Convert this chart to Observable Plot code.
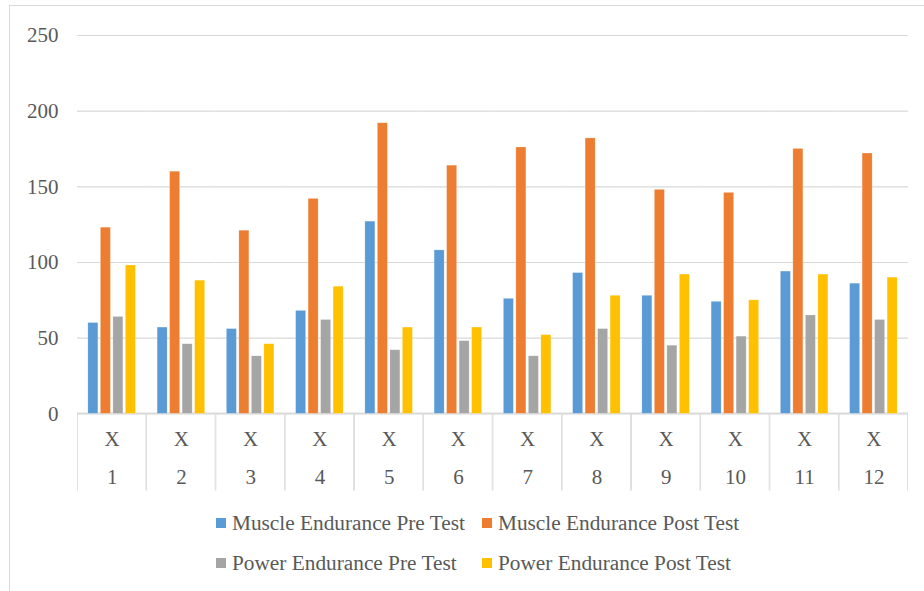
<!DOCTYPE html>
<html>
<head>
<meta charset="utf-8">
<script src="https://cdn.jsdelivr.net/npm/d3@7"></script>
<script src="https://cdn.jsdelivr.net/npm/@observablehq/plot@0.6"></script>
<style>
  html, body { margin: 0; padding: 0; background: #fff; }
  #wrap { position: relative; width: 924px; height: 591px; overflow: hidden; font-family: "Liberation Serif", "Times New Roman", serif; color: #595959; }
  #border { position: absolute; left: 9px; top: 5px; width: 1000px; height: 1000px; border: 1.5px solid #d9d9d9; box-sizing: border-box; }
  #chart { position: absolute; left: 0; top: 0; }
  #legend { position: absolute; left: 216px; top: 511px; display: grid; grid-template-columns: 266px auto; row-gap: 16px; font-size: 21.3px; }
  .item { display: flex; align-items: center; height: 24px; white-space: nowrap; }
  .sw { width: 10px; height: 10px; margin-right: 6px; flex: none; }
</style>
</head>
<body>
<div id="wrap">
  <div id="border"></div>
  <div id="chart"></div>
  <div id="legend"></div>
</div>
<script>
const groups = ["1","2","3","4","5","6","7","8","9","10","11","12"];
const categoryTop = ["X","X","X","X","X","X","X","X","X","X","X","X"];
const series = ["Muscle Endurance Pre Test","Muscle Endurance Post Test","Power Endurance Pre Test","Power Endurance Post Test"];
const colors = ["#5B9BD5","#ED7D31","#A5A5A5","#FFC000"];
const musclePre  = [60, 57, 56, 68, 127, 108, 76, 93, 78, 74, 94, 86];
const musclePost = [123, 160, 121, 142, 192, 164, 176, 182, 148, 146, 175, 172];
const powerPre   = [64, 46, 38, 62, 42, 48, 38, 56, 45, 51, 65, 62];
const powerPost  = [98, 88, 46, 84, 57, 57, 52, 78, 92, 75, 92, 90];
const yTicks = [0, 50, 100, 150, 200, 250];

const seriesValues = [musclePre, musclePost, powerPre, powerPost];
const data = [];
groups.forEach((g, i) => {
  series.forEach((s, j) => data.push({group: g, series: s, value: seriesValues[j][i]}));
});
const cats = groups.map((g, i) => ({group: g, top: categoryTop[i]}));

const chart = Plot.plot({
  width: 924,
  height: 500,
  marginLeft: 77,
  marginRight: 16,
  marginTop: 35,
  marginBottom: 9.5,
  style: {fontFamily: "Liberation Serif, Times New Roman, serif", fontSize: "21px", color: "#595959", background: "transparent"},
  fx: {domain: groups, padding: 0, round: false, axis: null},
  x: {domain: series, paddingInner: 0.2, paddingOuter: 0.87, round: false, axis: null},
  y: {domain: [-51, 250], axis: null},
  color: {domain: series, range: colors},
  marks: [
    Plot.gridY(yTicks, {stroke: "#d9d9d9", strokeOpacity: 1, strokeWidth: 1.2}),
    Plot.rect(cats, {fx: "group", y1: 0, y2: -70, stroke: "#d9d9d9", strokeWidth: 1.6, fill: "none", clip: true}),
    Plot.axisY(yTicks, {tickSize: 0, tickPadding: 19, fontSize: 21, fill: "#595959", label: null}),
    Plot.barY(data, {fx: "group", x: "series", y: "value", fill: "series", stroke: "white", strokeOpacity: 0.35, strokeWidth: 0.6}),
    Plot.text(cats, {fx: "group", y: -17, text: "top", fontSize: 21, fill: "#595959"}),
    Plot.text(cats, {fx: "group", y: -42, text: "group", fontSize: 21, fill: "#595959"})
  ]
});
document.getElementById("chart").appendChild(chart);

const legend = document.getElementById("legend");
series.forEach((s, j) => {
  const item = document.createElement("div");
  item.className = "item";
  const sw = document.createElement("span");
  sw.className = "sw";
  sw.style.background = colors[j];
  const t = document.createElement("span");
  t.textContent = s;
  item.appendChild(sw);
  item.appendChild(t);
  legend.appendChild(item);
});
</script>
</body>
</html>
